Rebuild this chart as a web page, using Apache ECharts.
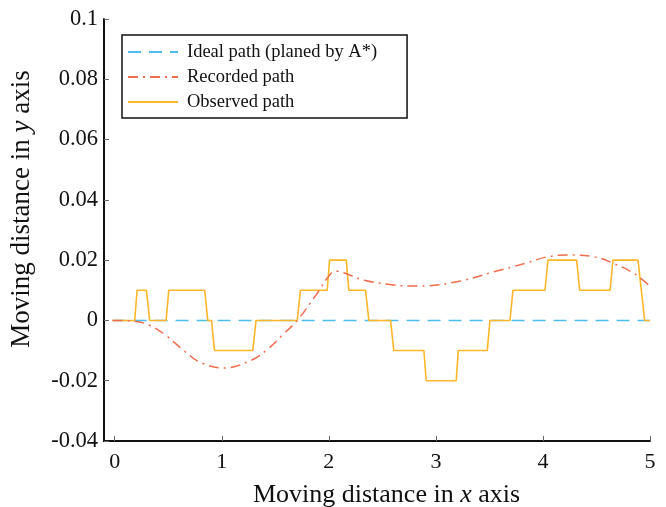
<!DOCTYPE html>
<html>
<head>
<meta charset="utf-8">
<script src="https://cdn.jsdelivr.net/npm/echarts@6/dist/echarts.min.js"></script>
<style>
html,body{margin:0;padding:0;background:#fff;}
#chart{width:666px;height:507px;}
</style>
</head>
<body>
<div id="chart"></div>
<script>
const xTicks = [0, 1, 2, 3, 4, 5];
const yTicks = [-0.04, -0.02, 0, 0.02, 0.04, 0.06, 0.08, 0.1];
const yTickLabels = ['-0.04', '-0.02', '0', '0.02', '0.04', '0.06', '0.08', '0.1'];

const seriesNames = ['Ideal path (planed by A*)', 'Recorded path', 'Observed path'];

const idealX = [-0.02, 5.0];
const idealY = [0, 0];

const recordedX = [-0.02, 0.175, 0.33, 0.49, 0.645, 0.80, 1.02, 1.27, 1.42, 1.58, 1.705, 1.89, 2.02, 2.08, 2.2, 2.33, 2.55, 2.76, 2.92, 3.23, 3.54, 3.85, 4.04, 4.23, 4.48, 4.66, 4.85, 5.0];
const recordedY = [0, -0.0002, -0.0017, -0.0053, -0.010, -0.0139, -0.0158, -0.0133, -0.0098, -0.0044, 0, 0.0089, 0.0156, 0.0163, 0.015, 0.0133, 0.012, 0.0114, 0.0115, 0.0131, 0.0161, 0.0191, 0.0211, 0.0217, 0.0211, 0.0189, 0.0156, 0.0113];

const observedX = [-0.02, 0.187, 0.209, 0.296, 0.327, 0.48, 0.505, 0.841, 0.869, 0.904, 0.932, 1.29, 1.32, 1.705, 1.735, 1.985, 2.007, 2.163, 2.187, 2.343, 2.374, 2.577, 2.607, 2.888, 2.91, 3.19, 3.209, 3.48, 3.505, 3.692, 3.72, 4.019, 4.047, 4.315, 4.343, 4.627, 4.654, 4.888, 4.95, 5.0];
const observedY = [0, 0, 0.01, 0.01, 0, 0, 0.01, 0.01, 0, 0, -0.01, -0.01, 0, 0, 0.01, 0.01, 0.02, 0.02, 0.01, 0.01, 0, 0, -0.01, -0.01, -0.02, -0.02, -0.01, -0.01, 0, 0, 0.01, 0.01, 0.02, 0.02, 0.01, 0.01, 0.02, 0.02, 0, 0];

function pairs(xs, ys) { return xs.map((x, i) => [x, ys[i]]); }

const FONT = 'Liberation Serif';
const chart = echarts.init(document.getElementById('chart'), null, {renderer: 'canvas'});

chart.setOption({
  animation: false,
  backgroundColor: '#fff',
  grid: {left: 104, right: 16, top: 19, bottom: 66, containLabel: false, outerBoundsMode: 'none'},
  legend: {
    orient: 'vertical',
    left: 122,
    top: 35,
    padding: [7, 30, 6, 5],
    itemGap: 5,
    itemWidth: 50,
    itemHeight: 14,
    borderColor: '#111',
    borderWidth: 1.5,
    borderRadius: 0,
    data: seriesNames,
    itemStyle: {opacity: 0},
    textStyle: {fontFamily: FONT, fontSize: 18.5, color: '#111', lineHeight: 20, padding: [0, 0, 0, 4]}
  },
  xAxis: {
    type: 'value',
    min: -0.1,
    max: 5,
    name: 'Moving distance in {i|x} axis',
    nameLocation: 'middle',
    nameGap: 41,
    nameTextStyle: {
      fontFamily: FONT, fontSize: 26, color: '#111', padding: [0, 0, 0, 19],
      rich: {i: {fontFamily: FONT, fontSize: 26, fontStyle: 'italic', color: '#111'}}
    },
    axisLine: {show: true, onZero: false, lineStyle: {color: '#111', width: 2}},
    axisTick: {show: true, inside: true, length: 5, customValues: xTicks, lineStyle: {color: '#666', width: 1}},
    axisLabel: {show: true, customValues: xTicks, margin: 10, fontFamily: FONT, fontSize: 22, color: '#111',
      formatter: v => String(v)},
    splitLine: {show: false}
  },
  yAxis: {
    type: 'value',
    min: -0.04,
    max: 0.1,
    interval: 0.02,
    name: 'Moving distance in {i|y} axis',
    nameLocation: 'middle',
    nameGap: 69,
    nameTextStyle: {
      fontFamily: FONT, fontSize: 27, color: '#111', padding: [0, 0, 0, 42],
      rich: {i: {fontFamily: FONT, fontSize: 27, fontStyle: 'italic', color: '#111'}}
    },
    axisLine: {show: true, onZero: false, lineStyle: {color: '#111', width: 2}},
    axisTick: {show: true, inside: true, length: 5, lineStyle: {color: '#666', width: 1}},
    axisLabel: {show: true, margin: 6, fontFamily: FONT, fontSize: 22.5, color: '#111',
      formatter: v => {
        const i = yTicks.findIndex(t => Math.abs(t - v) < 1e-9);
        return i >= 0 ? yTickLabels[i] : '';
      }},
    splitLine: {show: false}
  },
  series: [
    {
      name: seriesNames[0], type: 'line', data: pairs(idealX, idealY),
      symbol: 'none', showSymbol: false, z: 2,
      lineStyle: {color: '#4DBDEB', width: 1.6, type: [13, 8]},
      itemStyle: {color: '#4DBDEB'}
    },
    {
      name: seriesNames[1], type: 'line', data: pairs(recordedX, recordedY),
      symbol: 'none', showSymbol: false, smooth: 0.4, z: 4,
      lineStyle: {color: '#EF6D4E', width: 1.5, type: [10, 5, 2, 5]},
      itemStyle: {color: '#EF6D4E'}
    },
    {
      name: seriesNames[2], type: 'line', data: pairs(observedX, observedY),
      symbol: 'none', showSymbol: false, z: 3,
      lineStyle: {color: '#FDB62A', width: 1.6, type: 'solid'},
      itemStyle: {color: '#FDB62A'}
    }
  ]
});
</script>
</body>
</html>
